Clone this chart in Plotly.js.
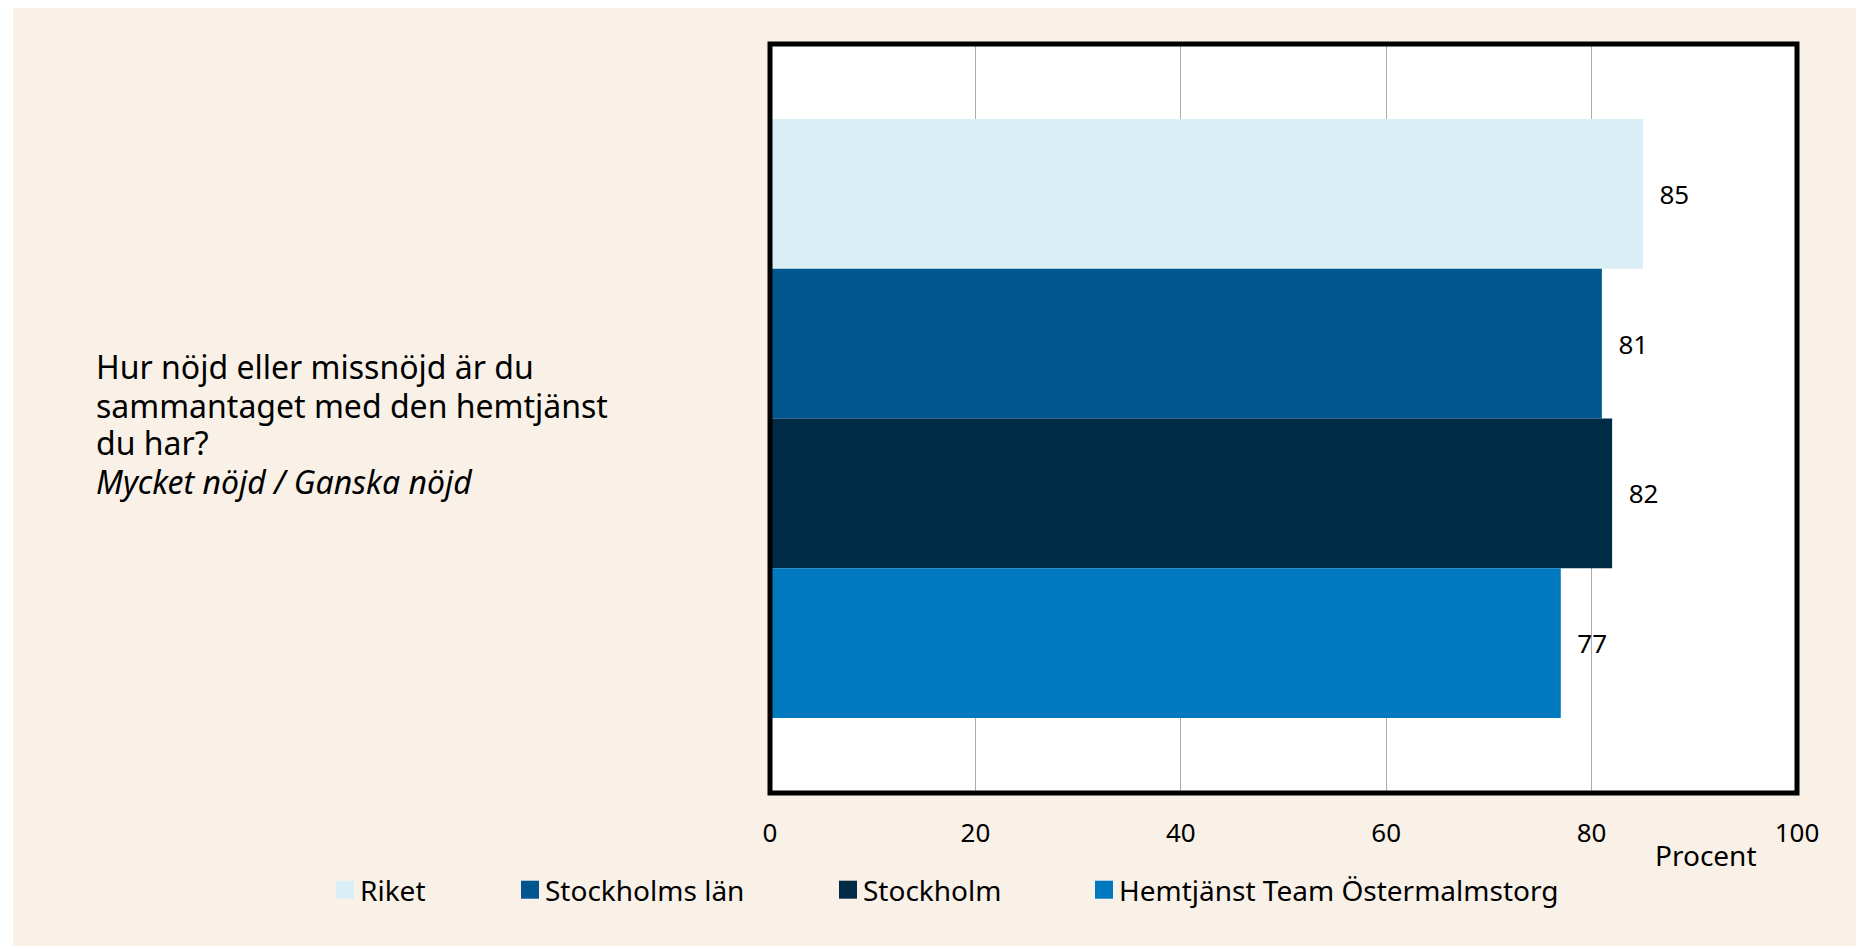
<!DOCTYPE html>
<html>
<head>
<meta charset="utf-8">
<script src="https://cdn.plot.ly/plotly-3.0.1.min.js"></script>
<style>
  html, body { margin: 0; padding: 0; background: #ffffff; }
  #chart { position: absolute; left: 13px; top: 8px; width: 1843px; height: 938px; }
</style>
</head>
<body>
<div id="chart"></div>
<script>
// ---- data ----
const categories = ["Hur nöjd eller missnöjd är du sammantaget med den hemtjänst du har? Mycket nöjd / Ganska nöjd"];
const seriesNames = ["Riket", "Stockholms län", "Stockholm", "Hemtjänst Team Östermalmstorg"];
const riket = [85];
const stockholmsLan = [81];
const stockholm = [82];
const hemtjanst = [77];
const xTickValues = [0, 20, 40, 60, 80, 100];
const xTickLabels = ["0", "20", "40", "60", "80", "100"];
const questionLines = ["Hur nöjd eller missnöjd är du", "sammantaget med den hemtjänst", "du har?", "<i>Mycket nöjd / Ganska nöjd</i>"];
const axisTitle = "Procent";

// ---- layout helpers (page pixels -> paper) ----
const OFF_X = 13, OFF_Y = 8;
const PL = 770, PR = 1797, PT = 44, PB = 793;
const W = 1843, H = 938;
const px = x => (x - PL) / (PR - PL);
const py = y => (PB - y) / (PB - PT);

const colors = ["#DAEEF5", "#02568F", "#002B47", "#0079C0"];
const values = [riket, stockholmsLan, stockholm, hemtjanst];
const legendIds = ["legend", "legend2", "legend3", "legend4"];
const legendTextStart = [362, 547, 865, 1121];

const FONT = "Noto Sans, Open Sans, sans-serif";

const traces = seriesNames.map((name, i) => ({
  type: "bar",
  orientation: "h",
  name: name,
  x: values[i],
  y: categories,
  marker: { color: colors[i], line: { width: 0 } },
  texttemplate: "\u00A0\u00A0%{x}",
  textposition: "outside",
  cliponaxis: false,
  textfont: { family: FONT, size: 26, color: "#000000" },
  hoverinfo: "x+name",
  legend: legendIds[i]
}));

const annotations = questionLines.map((t, i) => ({
  text: t,
  xref: "paper", yref: "paper",
  x: px(93.5), y: py(367 + i * 38),
  xanchor: "left", yanchor: "middle",
  showarrow: false,
  font: { family: FONT, size: 32, color: "#000000" }
}));
annotations.push({
  text: axisTitle,
  xref: "paper", yref: "paper",
  x: px(1759), y: py(855),
  xanchor: "right", yanchor: "middle",
  showarrow: false,
  font: { family: FONT, size: 28, color: "#000000" }
});

const layout = {
  width: W, height: H,
  paper_bgcolor: "#F9F1E7",
  plot_bgcolor: "#FFFFFF",
  margin: { l: PL - OFF_X, r: W + OFF_X - PR, t: PT - OFF_Y, b: H + OFF_Y - PB, pad: 0 },
  barmode: "group",
  bargap: 0.2,
  bargroupgap: 0,
  font: { family: FONT, size: 26, color: "#000000" },
  xaxis: {
    range: [0, 100],
    tickmode: "array",
    tickvals: xTickValues,
    ticktext: xTickLabels,
    showgrid: true,
    gridcolor: "#ABABAB",
    gridwidth: 1,
    zeroline: false,
    showline: false,
    ticks: "outside",
    ticklen: 17,
    tickcolor: "rgba(0,0,0,0)",
    tickfont: { family: FONT, size: 26, color: "#000000" },
    fixedrange: true
  },
  yaxis: {
    type: "category",
    autorange: "reversed",
    showticklabels: false,
    showgrid: false,
    zeroline: false,
    showline: false,
    ticks: "",
    fixedrange: true
  },
  shapes: [{
    type: "rect",
    xref: "paper", yref: "paper",
    x0: 0, x1: 1, y0: 0, y1: 1,
    line: { color: "#000000", width: 5 },
    fillcolor: "rgba(0,0,0,0)",
    layer: "above"
  }],
  annotations: annotations,
  showlegend: true
};

legendIds.forEach((id, i) => {
  layout[id] = {
    orientation: "h",
    x: px(legendTextStart[i] - 42),
    xanchor: "left",
    y: py(890),
    yanchor: "middle",
    bgcolor: "rgba(0,0,0,0)",
    borderwidth: 0,
    font: { family: FONT, size: 28, color: "#000000" }
  };
});

Plotly.newPlot("chart", traces, layout, { displayModeBar: false }).then(gd => {
  // enlarge legend swatches to match the reference square size
  gd.querySelectorAll(".legendpoints path").forEach(p => {
    const t = p.getAttribute("transform") || "";
    p.setAttribute("transform", t + " translate(5,0) scale(1.5)");
  });
});
</script>
</body>
</html>
